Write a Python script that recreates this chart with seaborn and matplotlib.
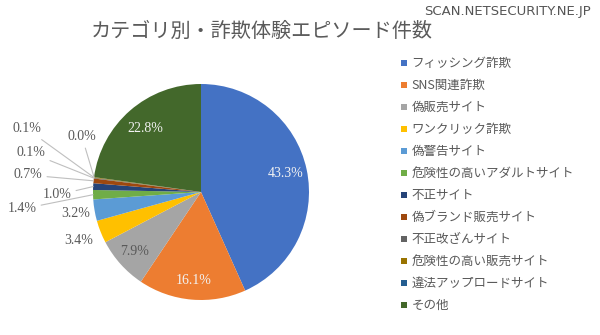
import matplotlib
matplotlib.use("Agg")
import matplotlib.pyplot as plt
import seaborn as sns
import numpy as np

categories = ["フィッシング詐欺", "SNS関連詐欺", "偽販売サイト", "ワンクリック詐欺", "偽警告サイト",
              "危険性の高いアダルトサイト", "不正サイト", "偽ブランド販売サイト", "不正改ざんサイト",
              "危険性の高い販売サイト", "違法アップロードサイト", "その他"]
percents = [43.3, 16.1, 7.9, 3.4, 3.2, 1.4, 1.0, 0.7, 0.1, 0.1, 0.0, 22.8]
title = "カテゴリ別・詐欺体験エピソード件数"
watermark = "SCAN.NETSECURITY.NE.JP"

colors = ["#4472C4", "#ED7D31", "#A5A5A5", "#FFC000", "#5B9BD5", "#70AD47",
          "#264478", "#9E480E", "#636363", "#997300", "#255E91", "#43682B"]

sns.set_theme(style="white")
plt.rcParams['font.family'] = ['Noto Sans CJK JP', 'DejaVu Sans']

W, H = 600, 335
fig = plt.figure(figsize=(6, 3.35), dpi=100)
ax = fig.add_axes([0, 0, 1, 1])
cx, cy, r = 201, H - 192, 108

wedges, _ = ax.pie(percents, colors=colors, startangle=90, counterclock=False,
                   center=(cx, cy), radius=r, wedgeprops=dict(linewidth=0))
ax.set_xlim(0, W)
ax.set_ylim(0, H)
ax.set_aspect('equal', adjustable='box')
ax.axis('off')

serif = ['Liberation Serif', 'DejaVu Serif']
gray = "#595959"

def mid_angle(i):
    w = wedges[i]
    return np.deg2rad((w.theta1 + w.theta2) / 2)

# inside labels
inside = {0: ("#F2F2F2", 0.80), 1: ("#F2F2F2", 0.82), 2: ("#595959", 0.83), 11: ("#F2F2F2", 0.78)}
for i, (c, d) in inside.items():
    a = mid_angle(i)
    ax.text(cx + d * r * np.cos(a), cy + d * r * np.sin(a), f"{percents[i]:.1f}%",
            ha='center', va='center', fontsize=10, color=c, family=serif)

# outside labels without lines
for i, d in [(3, 1.22), (4, 1.18)]:
    a = mid_angle(i)
    ax.text(cx + d * r * np.cos(a), cy + d * r * np.sin(a), f"{percents[i]:.1f}%",
            ha='center', va='center', fontsize=10, color=gray, family=serif)

# outside labels with leader lines (label positions in top-down pixels)
lead = {5: (22, 209), 6: (57, 195), 7: (28, 175), 8: (31, 153), 9: (27, 129), 10: (82, 137)}
for i, (lx, ly) in lead.items():
    a = mid_angle(i)
    px, py = cx + r * np.cos(a), cy + r * np.sin(a)
    ax.annotate(f"{percents[i]:.1f}%", xy=(px, py), xytext=(lx, H - ly),
                ha='center', va='center', fontsize=10, color=gray, family=serif,
                arrowprops=dict(arrowstyle='-', color="#BFBFBF", lw=0.8,
                                shrinkA=1, shrinkB=0))

fig.text(262 / W, 1 - 31 / H, title, ha='center', va='center', fontsize=14.5, color="#5a5a5a")
fig.text(591 / W, 1 - 12 / H, watermark, ha='right', va='center', fontsize=9.5,
         color="#555555", family=['DejaVu Sans'])

handles = [plt.Line2D([], [], marker='s', linestyle='', markersize=4.5,
                      markerfacecolor=c, markeredgewidth=0) for c in colors]
leg = fig.legend(handles, categories, loc='upper left', bbox_to_anchor=(395 / W, 1 - 52 / H),
                 frameon=False, fontsize=9, labelcolor=gray, handlelength=0.6,
                 handletextpad=0.3, labelspacing=0.72, borderaxespad=0)

fig.savefig("out.png", dpi=100, facecolor='white')
